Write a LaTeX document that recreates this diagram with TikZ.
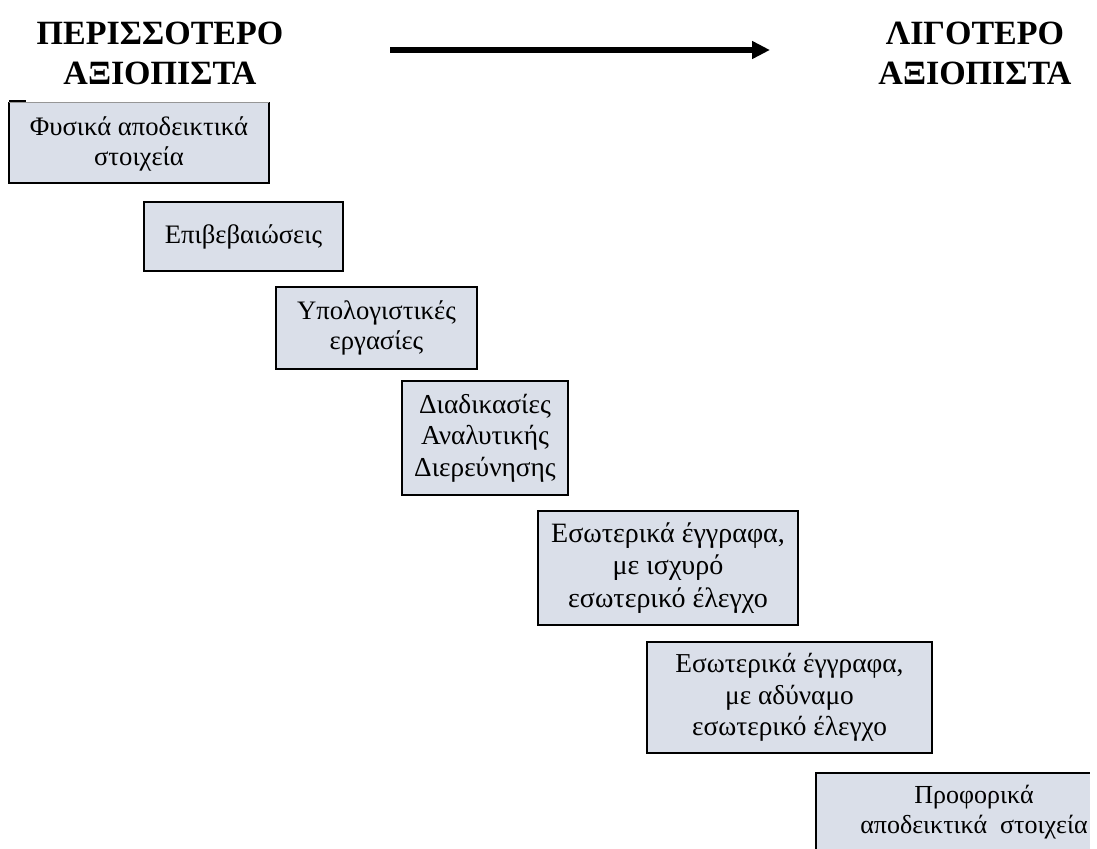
\documentclass[tikz,border=0pt]{standalone}
\usepackage{fontspec}
\setmainfont{Liberation Serif}
\usetikzlibrary{arrows.meta}
\definecolor{boxfill}{RGB}{218,223,233}
\definecolor{edgegray}{RGB}{150,150,150}
\newcommand{\boxfont}[1]{\fontsize{#1}{1.15\dimexpr#1pt\relax}\selectfont}
\begin{document}
\begin{tikzpicture}[x=0.75pt,y=-0.75pt,
  stepbox/.style={draw=black, line width=1.1pt, fill=boxfill, align=center, inner sep=0pt},
  boxtext/.style={align=center, inner sep=0pt},
  headtext/.style={align=center, inner sep=0pt,
    font=\fontsize{25.5}{30}\selectfont\bfseries}]
\useasboundingbox (0,0) rectangle (1097,849);

% headings
\node[headtext] (left) at (160,53) {ΠΕΡΙΣΣΟΤΕΡΟ\\ΑΞΙΟΠΙΣΤΑ};
\node[headtext] (right) at (975,53) {ΛΙΓΟΤΕΡΟ\\ΑΞΙΟΠΙΣΤΑ};

% direction arrow
\coordinate (a1) at (390,50);
\coordinate (a2) at (770,50);
\draw[line width=4.5pt, -{Triangle[length=13.5pt,width=12.75pt]}] (a1) -- (a2);

% first box: top edge lighter with a short dark start
\fill[boxfill] (9,102) rectangle (269,183);
\draw[line width=1.1pt] (9,102) -- (9,183) -- (269,183) -- (269,102);
\draw[line width=0.6pt, edgegray] (9,102) -- (269,102);
\draw[line width=1.1pt] (9,101) -- (26,101);
\node[boxtext, font=\boxfont{20}] (b1) at (139,144) {Φυσικά αποδεικτικά\\στοιχεία};

\node[stepbox, font=\boxfont{20}, minimum width=149.25pt, minimum height=51.75pt] (b2) at (243.5,236.5) {Επιβεβαιώσεις};
\node[stepbox, font=\boxfont{20}, minimum width=150.75pt, minimum height=61.5pt] (b3) at (376.5,328) {Υπολογιστικές\\εργασίες};
\node[stepbox, font=\boxfont{20.5}, minimum width=124.5pt, minimum height=85.5pt] (b4) at (485,438) {Διαδικασίες\\Αναλυτικής\\Διερεύνησης};
\node[stepbox, font=\boxfont{21}, minimum width=195pt, minimum height=85.5pt] (b5) at (668,568) {Εσωτερικά έγγραφα,\\με ισχυρό\\εσωτερικό έλεγχο};
\node[stepbox, font=\boxfont{20.5}, minimum width=213.75pt, minimum height=83.25pt] (b6) at (789.5,697.5) {Εσωτερικά έγγραφα,\\με αδύναμο\\εσωτερικό έλεγχο};

% last box runs off the page edge
\fill[boxfill] (816,773) rectangle (1090,849);
\draw[line width=1.1pt] (816,849) -- (816,773) -- (1090,773);
\node[boxtext, font=\boxfont{19.5}] (b7) at (974,812) {Προφορικά\\αποδεικτικά\ \ στοιχεία};
\end{tikzpicture}
\end{document}
